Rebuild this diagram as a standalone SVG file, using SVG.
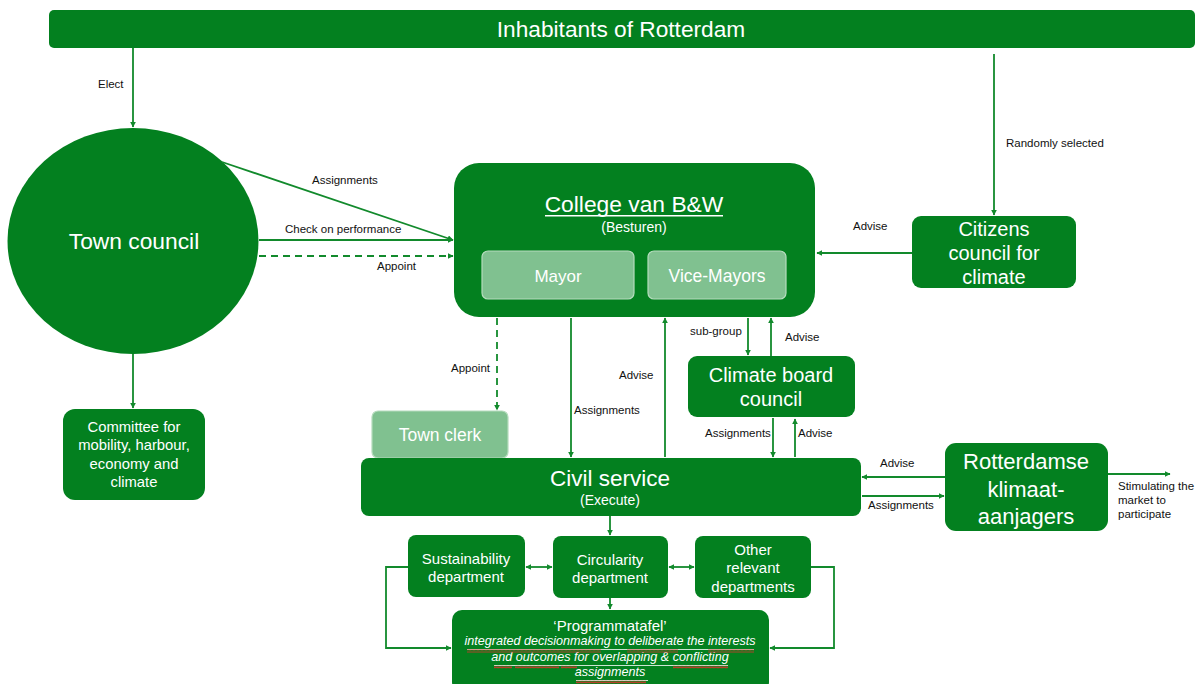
<svg xmlns="http://www.w3.org/2000/svg" width="1198" height="684" viewBox="0 0 1198 684">
<style>
.n{fill:#03801f}
.lt{fill:#80c190;stroke:#b5dcbd;stroke-width:1.2}
.w{fill:#fff;font-family:"Liberation Sans",Arial,sans-serif;text-anchor:middle;dominant-baseline:central}
.l{fill:#111;font-family:"Liberation Sans",Arial,sans-serif;font-size:11.5px;dominant-baseline:central}
.c{stroke:#128a2c;stroke-width:1.8;fill:none}
.d{stroke-dasharray:7 5}
</style>
<defs>
<marker id="a" viewBox="0 0 10 10" refX="9" refY="5" markerWidth="6" markerHeight="6" orient="auto-start-reverse" markerUnits="userSpaceOnUse"><path d="M0,0L10,5L0,10z" fill="#128a2c"/></marker>
<pattern id="sq" width="4" height="3" patternUnits="userSpaceOnUse"><path d="M0,2.5L1,0.5L2,2.5L3,0.5L4,2.5" stroke="#e0302a" stroke-width="0.8" fill="none"/></pattern>
</defs>

<g id="inhabitants"><rect class="n" x="49" y="10" width="1146" height="38" rx="5"/><text class="w" x="621" y="29" font-size="22.7">Inhabitants of Rotterdam</text></g>

<g id="town-council"><ellipse class="n" cx="133" cy="241" rx="125.5" ry="113"/><text class="w" x="134" y="241" font-size="22.8">Town council</text></g>

<g id="committee"><rect class="n" x="63" y="409" width="142" height="91" rx="12"/>
<text class="w" font-size="14.8"><tspan x="134" y="427">Committee for</tspan><tspan x="134" y="445">mobility, harbour,</tspan><tspan x="134" y="464">economy and</tspan><tspan x="134" y="482">climate</tspan></text></g>

<g id="college"><rect class="n" x="454" y="163" width="361" height="154" rx="25"/>
<text class="w" x="634" y="204" font-size="22.8">College van B&amp;W</text><rect x="545" y="215" width="178" height="1.5" fill="#fff"/>
<text class="w" x="634" y="227" font-size="14">(Besturen)</text>
<g id="mayor"><rect class="lt" x="482" y="251" width="152" height="48" rx="6"/><text class="w" x="558" y="276" font-size="17">Mayor</text></g>
<g id="vice-mayors"><rect class="lt" x="648" y="251" width="138" height="48" rx="6"/><text class="w" x="717" y="276" font-size="17.5">Vice-Mayors</text></g></g>

<g id="citizens"><rect class="n" x="912" y="216" width="164" height="72" rx="9"/>
<text class="w" font-size="20"><tspan x="994" y="229">Citizens</tspan><tspan x="994" y="253">council for</tspan><tspan x="994" y="277">climate</tspan></text></g>

<g id="town-clerk"><rect class="lt" x="372" y="411" width="136" height="47" rx="6"/><text class="w" x="440" y="435" font-size="17.5">Town clerk</text></g>

<g id="climate-board"><rect class="n" x="688" y="356" width="167" height="61" rx="9"/>
<text class="w" font-size="20"><tspan x="771" y="375">Climate board</tspan><tspan x="771" y="399">council</tspan></text></g>

<g id="civil-service"><rect class="n" x="361" y="458" width="500" height="58" rx="8"/>
<text class="w" x="610" y="478" font-size="22.5">Civil service</text><text class="w" x="610" y="500" font-size="14">(Execute)</text></g>

<g id="klimaat"><rect class="n" x="945" y="443" width="163" height="88" rx="11"/>
<text class="w" font-size="22"><tspan x="1026" y="461">Rotterdamse</tspan><tspan x="1026" y="489">klimaat-</tspan><tspan x="1026" y="516">aanjagers</tspan></text></g>

<g id="sustainability"><rect class="n" x="408" y="535" width="117" height="62" rx="8"/>
<text class="w" font-size="15"><tspan x="466" y="558">Sustainability</tspan><tspan x="466" y="576">department</tspan></text></g>

<g id="circularity"><rect class="n" x="553" y="536" width="115" height="62" rx="8"/>
<text class="w" font-size="15"><tspan x="610" y="559">Circularity</tspan><tspan x="610" y="577">department</tspan></text></g>

<g id="other"><rect class="n" x="695" y="536" width="116" height="62" rx="8"/>
<text class="w" font-size="15"><tspan x="753" y="549">Other</tspan><tspan x="753" y="567">relevant</tspan><tspan x="753" y="586">departments</tspan></text></g>

<g id="programmatafel"><rect class="n" x="452" y="610" width="317" height="82" rx="10"/>
<text class="w" x="610" y="625" font-size="15">‘Programmatafel’</text>
<g font-style="italic" font-size="12.6"><text class="w" x="610" y="641">integrated decisionmaking to deliberate the interests</text><text class="w" x="610" y="657">and outcomes for overlapping &amp; conflicting</text><text class="w" x="610" y="672">assignments </text></g>
<g fill="#fff"><rect x="467" y="649" width="287" height="0.8"/><rect x="494" y="665" width="234" height="0.8"/><rect x="576" y="680" width="72" height="0.8"/></g>
<g fill="url(#sq)"><rect x="467" y="649.5" width="134" height="3"/><rect x="627" y="649.5" width="51" height="3"/><rect x="708" y="649.5" width="46" height="3"/><rect x="494" y="665.5" width="18" height="3"/><rect x="515" y="665.5" width="44" height="3"/><rect x="561" y="665.5" width="16" height="3"/><rect x="673" y="665.5" width="55" height="3"/><rect x="576" y="680.5" width="70" height="3"/></g></g>

<g id="connectors">
<path class="c" d="M133,48V127" marker-end="url(#a)"/>
<path class="c" d="M994,54V215" marker-end="url(#a)"/>
<path class="c" d="M222,162L453,240" marker-end="url(#a)"/>
<path class="c" d="M259,240H453" marker-end="url(#a)"/>
<path class="c d" d="M259,256H453" marker-end="url(#a)"/>
<path class="c" d="M912,253H817" marker-end="url(#a)"/>
<path class="c" d="M133,354V408" marker-end="url(#a)"/>
<path class="c d" d="M497,318V410" marker-end="url(#a)"/>
<path class="c" d="M571,318V457" marker-end="url(#a)"/>
<path class="c" d="M665,457V318" marker-end="url(#a)"/>
<path class="c" d="M748,318V355" marker-end="url(#a)"/>
<path class="c" d="M771,356V318" marker-end="url(#a)"/>
<path class="c" d="M773,418V457" marker-end="url(#a)"/>
<path class="c" d="M795,457V419" marker-end="url(#a)"/>
<path class="c" d="M945,477H862" marker-end="url(#a)"/>
<path class="c" d="M862,496H944" marker-end="url(#a)"/>
<path class="c" d="M1108,474H1170" marker-end="url(#a)"/>
<path class="c" d="M610,516V535" marker-end="url(#a)"/>
<path class="c" d="M526,567H552" marker-start="url(#a)" marker-end="url(#a)"/>
<path class="c" d="M669,567H694" marker-start="url(#a)" marker-end="url(#a)"/>
<path class="c" d="M610,598V609" marker-end="url(#a)"/>
<path class="c" d="M408,567H386V648H451" marker-end="url(#a)"/>
<path class="c" d="M811,567H834V648H770" marker-end="url(#a)"/>
</g>

<g id="labels">
<text class="l" x="98" y="84">Elect</text>
<text class="l" x="1006" y="143">Randomly selected</text>
<text class="l" x="312" y="180">Assignments</text>
<text class="l" x="285" y="229">Check on performance</text>
<text class="l" x="377" y="266">Appoint</text>
<text class="l" x="853" y="226">Advise</text>
<text class="l" x="451" y="368">Appoint</text>
<text class="l" x="574" y="410">Assignments</text>
<text class="l" x="619" y="375">Advise</text>
<text class="l" x="690" y="331">sub-group</text>
<text class="l" x="785" y="337">Advise</text>
<text class="l" x="705" y="433">Assignments</text>
<text class="l" x="798" y="433">Advise</text>
<text class="l" x="880" y="463">Advise</text>
<text class="l" x="868" y="505">Assignments</text>
<text class="l" font-size="11"><tspan x="1118" y="486">Stimulating the</tspan><tspan x="1118" y="500">market to</tspan><tspan x="1118" y="514">participate</tspan></text>
</g>
</svg>
